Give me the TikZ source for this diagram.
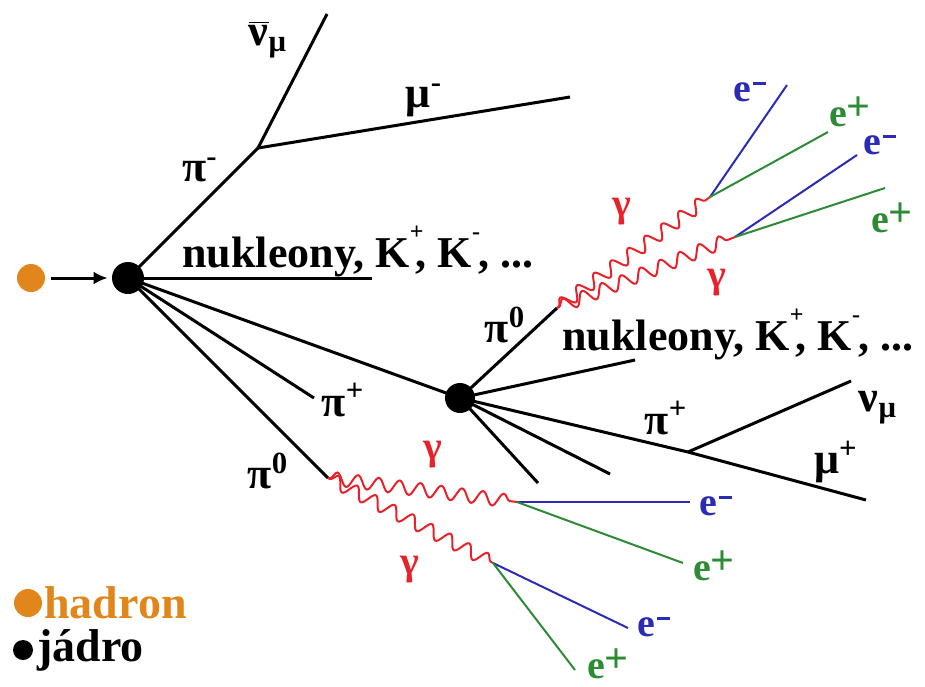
\documentclass[tikz,border=0pt]{standalone}
\usepackage{fontspec}
\setmainfont{Liberation Serif}
\usetikzlibrary{
  arrows.meta,
  decorations.pathmorphing
}
\definecolor{hadOrange}{HTML}{E0861A}
\definecolor{eBlue}{HTML}{2B2BB5}
\definecolor{eGreen}{HTML}{2E8B35}
\definecolor{gRed}{HTML}{E8222A}
% small charge sign sitting over the following comma
\newcommand\kup[1]{\rlap{\raisebox{0.62em}{\fontsize{12}{12}\selectfont #1}}\kern3pt}
% charge signs of the e labels
\newcommand\eplus{\raisebox{0.16em}{\fontsize{21}{21}\selectfont +}}
\newcommand\eminus{\kern0.5pt\rule[0.42em]{0.34em}{0.08em}}
\tikzset{
  tag/.style={font=\fontsize{22}{24}\selectfont\bfseries, text=black, inner sep=0pt},
  etag/.style={tag, font=\fontsize{20}{24}\selectfont\bfseries},
  gtag/.style={etag, text=gRed},
  track/.style={line width=1.5pt, draw=black},
  electron/.style={line width=1pt, draw=eBlue},
  positron/.style={line width=1pt, draw=eGreen},
  photon/.style={
    draw=gRed, line width=1pt, decorate,
    decoration={snake, segment length=10.5pt, amplitude=3.3pt,
      pre length=1pt, post length=1pt}
  },
  vertex/.style={circle, fill=black, inner sep=0pt},
  hadron/.style={circle, fill=hadOrange, inner sep=0pt},
  beam/.style={-{Latex[length=7pt, width=6.5pt]}, line width=1.5pt,
    shorten <=3pt, shorten >=2pt}
}

\begin{document}
\begin{tikzpicture}[x=0.5pt,y=-0.5pt]
\useasboundingbox (0,0) rectangle (925,686);

% --------------------------------------------------------------------------
% Vertices
% --------------------------------------------------------------------------
\node[hadron, minimum size=14pt] (had) at (31,278) {};
\node[vertex, minimum size=16pt] (nuc1) at (128,278) {};
\node[vertex, minimum size=15pt] (nuc2) at (460,398) {};

\coordinate (pimDec) at (258,148);
\coordinate (nubarEnd) at (327,14);
\coordinate (mumEnd) at (570,97);
\coordinate (nucOneEnd) at (372,278);
\coordinate (pipEnd) at (314,398);
\coordinate (pizEnd) at (328,478);

\coordinate (pizTwoEnd) at (557,308);
\coordinate (nucTwoEnd) at (635,360);
\coordinate (pipDec) at (688,452);
\coordinate (mupEnd) at (866,500);
\coordinate (numEnd) at (851,381);
\coordinate (stubA) at (538,483);
\coordinate (stubB) at (610,474);

\coordinate (convA) at (710,197);
\coordinate (convB) at (735,237);
\coordinate (convC) at (517,502);
\coordinate (convD) at (493,563);

\coordinate (emA) at (787,85);
\coordinate (epA) at (828,132);
\coordinate (emB) at (857,155);
\coordinate (epB) at (885,188);
\coordinate (emC) at (690,502);
\coordinate (epC) at (683,563);
\coordinate (emD) at (628,628);
\coordinate (epD) at (575,670);

% --------------------------------------------------------------------------
% First interaction
% --------------------------------------------------------------------------
\draw[beam] (had) -- (nuc1);
\draw[track] (nuc1.center) -- (pimDec);
\draw[track] (pimDec) -- (nubarEnd);
\draw[track] (pimDec) -- (mumEnd);
\draw[track] (nuc1.center) -- (nucOneEnd);
\draw[track] (nuc1.center) -- (nuc2.center);
\draw[track] (nuc1.center) -- (pipEnd);
\draw[track] (nuc1.center) -- (pizEnd);

\draw[photon] (pizEnd) -- (convC);
\draw[photon] (pizEnd) -- (convD);
\draw[electron] (convC) -- (emC);
\draw[positron] (convC) -- (epC);
\draw[electron] (convD) -- (emD);
\draw[positron] (convD) -- (epD);

% --------------------------------------------------------------------------
% Second interaction
% --------------------------------------------------------------------------
\draw[track] (nuc2.center) -- (pizTwoEnd);
\draw[track] (nuc2.center) -- (nucTwoEnd);
\draw[track] (nuc2.center) -- (pipDec);
\draw[track] (pipDec) -- (mupEnd);
\draw[track] (pipDec) -- (numEnd);
\draw[track] (nuc2.center) -- (stubA);
\draw[track] (nuc2.center) -- (stubB);

\draw[photon] (pizTwoEnd) -- (convA);
\draw[photon] (pizTwoEnd) -- (convB);
\draw[electron] (convA) -- (emA);
\draw[positron] (convA) -- (epA);
\draw[electron] (convB) -- (emB);
\draw[positron] (convB) -- (epB);

% --------------------------------------------------------------------------
% Labels
% --------------------------------------------------------------------------
\node[tag] (nubarLbl) at (268,40) {$\overline{\hbox{ν}}$\textsubscript{μ}};
\node[tag] (mumLbl) at (424,100) {μ\textsuperscript{-}};
\node[tag] (pimLbl) at (200,170) {π\textsuperscript{-}};
\node[tag, anchor=base west] (nucOneLbl) at (182,267)
  {nukleony, K\kup{+}, K\kup{-}, ...};
\node[tag] (pipLbl) at (343,400) {π\textsuperscript{+}};
\node[tag] (pizLbl) at (268,471) {π\textsuperscript{0}};

\node[tag] (pizTwoLbl) at (505,325) {π\textsuperscript{0}};
\node[tag, anchor=base west] (nucTwoLbl) at (562,350)
  {nukleony, K\kup{+}, K\kup{-}, ...};
\node[tag] (pipTwoLbl) at (666,418) {π\textsuperscript{+}};
\node[tag] (numLbl) at (878,408) {ν\textsubscript{μ}};
\node[tag] (mupLbl) at (836,462) {μ\textsuperscript{+}};

\node[gtag] (gamALbl) at (622,212) {γ};
\node[gtag] (gamBLbl) at (717,283) {γ};
\node[gtag] (gamCLbl) at (433,455) {γ};
\node[gtag] (gamDLbl) at (410,570) {γ};

\node[etag, text=eBlue] (emALbl) at (750,92) {e\eminus};
\node[etag, text=eGreen] (epALbl) at (850,112) {e\eplus};
\node[etag, text=eBlue] (emBLbl) at (880,145) {e\eminus};
\node[etag, text=eGreen] (epBLbl) at (892,218) {e\eplus};
\node[etag, text=eBlue] (emCLbl) at (716,506) {e\eminus};
\node[etag, text=eGreen] (epCLbl) at (714,566) {e\eplus};
\node[etag, text=eBlue] (emDLbl) at (654,627) {e\eminus};
\node[etag, text=eGreen] (epDLbl) at (608,664) {e\eplus};

% --------------------------------------------------------------------------
% Legend
% --------------------------------------------------------------------------
\node[hadron, minimum size=14pt] (legHad) at (28,603) {};
\node[tag, font=\fontsize{23}{24}\selectfont\bfseries, text=hadOrange, anchor=west]
  (legHadLbl) at (44,603) {hadron};
\node[vertex, minimum size=10pt] (legNuc) at (23,650) {};
\node[tag, font=\fontsize{23}{24}\selectfont\bfseries, anchor=west]
  (legNucLbl) at (37,650) {jádro};

\end{tikzpicture}
\end{document}
